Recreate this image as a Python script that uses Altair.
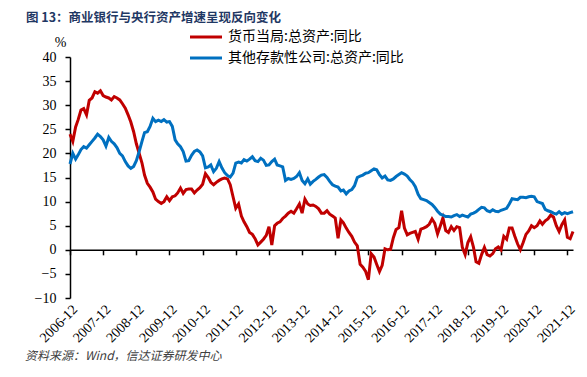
import altair as alt
import pandas as pd

TITLE = "图 13：商业银行与央行资产增速呈现反向变化"
SOURCE = "资料来源：Wind，信达证券研发中心"
SERIES = ["货币当局:总资产:同比", "其他存款性公司:总资产:同比"]
COLORS = ["#C00000", "#0070C0"]
TICK_YEARS = list(range(2006, 2022))
Y_TICKS = [-10, -5, 0, 5, 10, 15, 20, 25, 30, 35, 40]

# 货币当局:总资产:同比 (monthly, 2006-12 .. 2022-02)
red = [
    24.0, 22.5, 25.5, 27.0, 29.0, 29.3, 28.0, 31.0, 31.5, 32.8, 32.5, 33.0,
    32.0, 31.7, 31.5, 31.1, 31.8, 31.5, 31.1, 30.3, 29.4, 28.0, 26.5, 24.5,
    22.0, 20.0, 18.0, 15.5, 13.8, 13.0, 12.0, 10.5, 10.0, 9.6, 10.0, 11.0,
    10.2, 11.0, 11.2, 11.8, 12.8, 11.7, 12.5, 12.6, 12.6, 11.8, 12.4, 12.9,
    13.6, 15.8, 15.0, 14.0, 13.5, 14.0, 14.4, 14.7, 14.9, 14.7, 13.5, 11.0,
    8.6, 9.5, 7.0, 5.8, 4.8, 3.6, 3.2, 2.3, 1.0, 1.6, 2.2, 3.0,
    4.8, 1.0, 5.0, 5.5, 5.8, 6.5, 7.0, 7.6, 8.0, 7.6, 8.5, 9.5,
    7.6, 10.5, 9.5, 9.2, 9.3, 9.0, 8.5, 7.6, 7.6, 8.1, 7.4, 7.0,
    6.6, 2.4, 6.2, 5.6, 4.5, 3.6, 2.8, 1.6, 0.8, -3.0, -3.6, -4.5,
    -6.2, -0.8, -1.5, -3.0, -4.5, -3.2, 0.2, 0.0, 0.1, 2.5, 4.2, 4.6,
    8.1, 4.5, 3.1, 3.4, 3.6, 3.8, 2.2, 4.3, 4.5, 4.8, 5.3, 6.4,
    5.5, 3.3, 5.0, 6.6, 4.0, 3.6, 4.8, 4.0, 4.8, 4.6, 0.5, -1.0,
    1.5, 2.7, 0.5, -2.5, -2.8, -1.0, 0.5, -1.0, -1.3, -0.8, 0.2, 0.6,
    0.0, 2.8, 2.2, 4.5, 4.5, 2.8, 1.2, 0.0, 1.5, 3.2, 3.9, 5.0,
    4.6, 5.0, 6.0, 5.3, 6.0, 6.4, 7.2, 6.8, 5.0, 3.8, 5.2, 6.2,
    2.6, 2.3, 3.8,
]

# 其他存款性公司:总资产:同比 (monthly, 2006-12 .. 2022-02)
blue = [
    17.8, 20.0, 18.8, 19.7, 20.8, 21.4, 21.1, 21.8, 22.5, 23.2, 24.0, 23.5,
    22.8, 21.5, 23.3, 22.5, 22.0, 21.2, 20.0, 19.5, 18.3, 17.4, 16.9, 17.3,
    18.5, 20.4, 22.5, 24.3, 24.5, 25.6, 27.3, 26.6, 26.9, 26.6, 27.0, 26.5,
    26.6, 25.6, 22.8, 22.0, 21.4, 20.4, 18.4, 18.5, 19.6, 20.4, 20.7, 20.3,
    19.5, 17.0, 17.2, 17.6, 16.2, 16.9, 18.3, 17.0, 16.0, 15.4, 15.1, 15.9,
    18.0, 18.2, 18.0, 18.7, 18.4, 18.8, 19.3, 18.5, 18.3, 19.0, 18.6, 17.5,
    17.6, 18.3, 18.8, 17.6, 17.4, 17.2, 14.4, 14.8, 14.6, 14.8, 15.2, 16.0,
    14.4, 13.7, 14.7, 13.6, 14.2, 14.6, 15.1, 15.5, 15.6, 15.0, 14.2, 13.5,
    13.2, 13.0, 12.2, 12.4, 11.6, 12.2, 12.5, 13.3, 15.0, 15.3, 15.5, 15.9,
    16.0, 16.4, 16.8, 16.6, 15.6, 14.9, 15.3, 14.5, 14.4, 14.7, 15.2, 15.6,
    16.0, 15.7, 15.3, 14.6, 14.0, 13.1, 11.5, 10.6, 10.4, 10.2, 9.8, 9.4,
    8.8, 8.0, 7.4, 7.2, 6.9, 6.9, 6.8, 7.1, 7.3, 6.9, 7.2, 7.0,
    6.8, 7.4, 7.6, 7.9, 8.4, 8.8, 8.7, 8.1, 7.9, 8.3, 8.0, 7.9,
    8.2, 8.4, 8.6, 9.5, 10.6, 10.5, 10.4, 10.9, 10.9, 10.8, 11.0, 11.1,
    11.0, 10.0, 9.8, 9.6, 8.4, 8.1, 7.9, 7.6, 7.4, 7.9, 7.4, 7.7,
    7.5, 7.7, 7.9,
]

months = pd.date_range("2006-12-01", periods=len(red), freq="MS").strftime("%Y/%m/%d").tolist()
df = pd.DataFrame({"date": months, "red": red, "blue": blue})

W, H = 503, 241
SERIF = "Liberation Serif"
CJK = "Noto Sans CJK SC"

tick_values = [alt.DateTime(year=y, month=12, date=1) for y in TICK_YEARS]
xscale = alt.Scale(nice=False)
yscale = alt.Scale(domain=[-10, 40], nice=False, zero=False)

yaxis = alt.Axis(
    values=Y_TICKS, grid=False, domainColor="black", domainWidth=1.5,
    tickColor="black", tickSize=5, tickWidth=1.5,
    labelFont=SERIF, labelFontSize=14, labelColor="black", labelPadding=9,
    title="%", titleAngle=0, titleX=-10, titleY=-15, titleFont=SERIF,
    titleFontSize=14, titleFontWeight="normal", titleAlign="center",
    titleBaseline="middle", titleColor="black",
)

label_axis = alt.Axis(
    values=tick_values, format="%Y-%m", labelAngle=-45, labelFont=SERIF,
    labelFontSize=14, labelColor="black", domain=False, ticks=False,
    grid=False, title=None, labelPadding=4, orient="bottom", labelOverlap=False,
)

zero_axis = alt.Axis(
    values=tick_values, domain=True, domainColor="black", domainWidth=1.5,
    ticks=True, tickColor="black", tickSize=5, tickWidth=1.5, labels=False,
    grid=False, title=None, offset=-H * 10 / 50, orient="bottom",
)

base = alt.Chart(df)
red_line = base.mark_line(color=COLORS[0], strokeWidth=3).encode(
    x=alt.X("date:T", scale=xscale, axis=label_axis),
    y=alt.Y("red:Q", scale=yscale, axis=yaxis),
)
blue_line = base.mark_line(color=COLORS[1], strokeWidth=3).encode(
    x=alt.X("date:T", scale=xscale, axis=zero_axis),
    y=alt.Y("blue:Q", scale=yscale, axis=yaxis),
)

one = pd.DataFrame({"t": [TITLE], "s": [SOURCE], "a": [SERIES[0]], "b": [SERIES[1]]})
ann = alt.Chart(one)
title_txt = ann.mark_text(align="left", baseline="middle", font=CJK, fontSize=12.5,
                          fontWeight="bold", color="#1F3864").encode(
    x=alt.value(-44), y=alt.value(-39.5), text="t:N")
source_txt = ann.mark_text(align="left", baseline="top", font=CJK, fontSize=12,
                           fontStyle="italic", color="#404040").encode(
    x=alt.value(-45), y=alt.value(294), text="s:N")
leg_red = ann.mark_rule(color=COLORS[0], strokeWidth=3).encode(
    x=alt.value(120), x2=alt.value(152), y=alt.value(-20))
leg_blue = ann.mark_rule(color=COLORS[1], strokeWidth=3).encode(
    x=alt.value(120), x2=alt.value(152), y=alt.value(1))
leg_red_t = ann.mark_text(align="left", baseline="middle", font=CJK, fontSize=14,
                          color="black").encode(x=alt.value(158), y=alt.value(-20), text="a:N")
leg_blue_t = ann.mark_text(align="left", baseline="middle", font=CJK, fontSize=14,
                           color="black").encode(x=alt.value(158), y=alt.value(1), text="b:N")

chart = alt.layer(
    red_line, blue_line, title_txt, source_txt, leg_red, leg_blue, leg_red_t, leg_blue_t
).resolve_axis(x="independent").properties(
    width=W, height=H,
    autosize=alt.AutoSizeParams(type="none"),
    padding={"left": 62, "top": 49, "right": 4, "bottom": 68},
).configure_view(stroke="transparent")

chart.save("out.html", embed_options={"renderer": "svg", "actions": False})
